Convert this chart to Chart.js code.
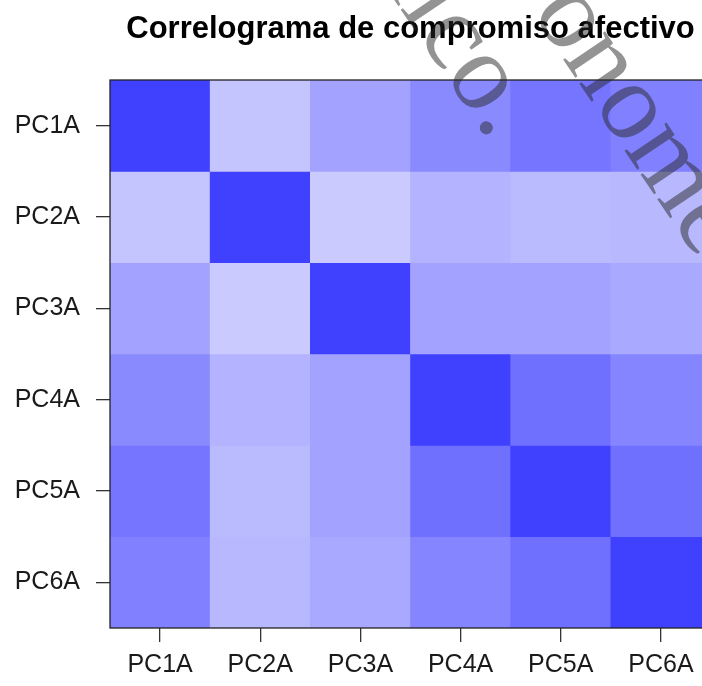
<!DOCTYPE html>
<html>
<head>
<meta charset="utf-8">
<script src="https://cdn.jsdelivr.net/npm/chart.js@4.4.1/dist/chart.umd.min.js"></script>
<style>
  html, body { margin: 0; padding: 0; background: #fff; overflow: hidden; }
  #wrap { width: 720px; height: 686px; }
</style>
</head>
<body>
<div id="wrap"><canvas id="c" width="720" height="686"></canvas></div>
<script>
// variables of the correlogram
const labels = ['PC1A', 'PC2A', 'PC3A', 'PC4A', 'PC5A', 'PC6A'];

// correlation rows (read from the cell shades)
const pc1a = [1.00, 0.31, 0.48, 0.61, 0.72, 0.66];
const pc2a = [0.31, 1.00, 0.28, 0.40, 0.36, 0.37];
const pc3a = [0.48, 0.28, 1.00, 0.48, 0.48, 0.45];
const pc4a = [0.61, 0.40, 0.48, 1.00, 0.75, 0.64];
const pc5a = [0.72, 0.36, 0.48, 0.75, 1.00, 0.75];
const pc6a = [0.66, 0.37, 0.45, 0.64, 0.75, 1.00];

const title = 'Correlograma de compromiso afectivo';
const watermark = ['onome', 'lico.'];

const corr = [pc1a, pc2a, pc3a, pc4a, pc5a, pc6a];
const FONT = "'Liberation Sans', Arial, sans-serif";

function cellColor(r) {
  const k = Math.round(255 - 191 * r);
  return 'rgb(' + k + ',' + k + ',255)';
}

const datasets = corr.map((row, i) => ({
  label: labels[i],
  data: row.map(() => [i, i + 1]),
  backgroundColor: row.map(cellColor),
  borderWidth: 0,
  grouped: false,
  barPercentage: 1,
  categoryPercentage: 1
}));

const frame = {
  id: 'frame',
  afterDatasetsDraw(chart) {
    const { ctx, chartArea: a } = chart;
    ctx.save();
    ctx.strokeStyle = '#222';
    ctx.lineWidth = 1.3;
    ctx.strokeRect(a.left, a.top, a.right - a.left, a.bottom - a.top);
    ctx.restore();
  },
  afterDraw(chart) {
    const { ctx, chartArea: a } = chart;
    ctx.save();
    ctx.fillStyle = '#000';
    ctx.font = 'bold 31px ' + FONT;
    ctx.textAlign = 'center';
    ctx.textBaseline = 'alphabetic';
    ctx.fillText(title, (a.left + a.right) / 2, 38);
    ctx.restore();

    // diagonal watermark
    const ang = 56 * Math.PI / 180;
    ctx.save();
    ctx.fillStyle = 'rgba(40,40,40,0.5)';
    ctx.font = "110px 'Liberation Serif', 'Times New Roman', serif";
    ctx.textBaseline = 'alphabetic';
    ctx.translate(531, 12);
    ctx.rotate(ang);
    ctx.textAlign = 'left';
    ctx.fillText(watermark[0], 0, 0);
    ctx.restore();
    ctx.save();
    ctx.fillStyle = 'rgba(40,40,40,0.5)';
    ctx.font = "110px 'Liberation Serif', 'Times New Roman', serif";
    ctx.translate(490, 142);
    ctx.rotate(ang);
    ctx.textAlign = 'right';
    ctx.fillText(watermark[1], 0, 0);
    ctx.restore();
  }
};

new Chart(document.getElementById('c'), {
  type: 'bar',
  data: { labels: labels, datasets: datasets },
  options: {
    responsive: false,
    animation: false,
    devicePixelRatio: 1,
    layout: { padding: { top: 80, right: 9, left: 0, bottom: 0 } },
    plugins: { legend: { display: false }, tooltip: { enabled: false } },
    scales: {
      x: {
        type: 'category',
        border: { display: false },
        grid: { display: true, drawOnChartArea: false, drawTicks: true, tickLength: 14, offset: false, color: '#333', tickColor: '#333', lineWidth: 1.3 },
        ticks: { font: { size: 25, family: FONT }, color: '#1a1a1a', padding: 8, maxRotation: 0, autoSkip: false },
        afterFit(s) { s.height = 58; }
      },
      y: {
        type: 'linear',
        min: 0,
        max: 6,
        reverse: true,
        border: { display: false },
        grid: { display: true, drawOnChartArea: false, drawTicks: true, tickLength: 14, color: '#333', tickColor: '#333', lineWidth: 1.3 },
        afterBuildTicks(s) { s.ticks = labels.map((_, i) => ({ value: i + 0.5 })); },
        ticks: { font: { size: 25, family: FONT }, color: '#1a1a1a', padding: 16, autoSkip: false, callback: (v, i) => labels[i] },
        afterFit(s) { s.width = 110; }
      }
    }
  },
  plugins: [frame]
});
</script>
</body>
</html>
